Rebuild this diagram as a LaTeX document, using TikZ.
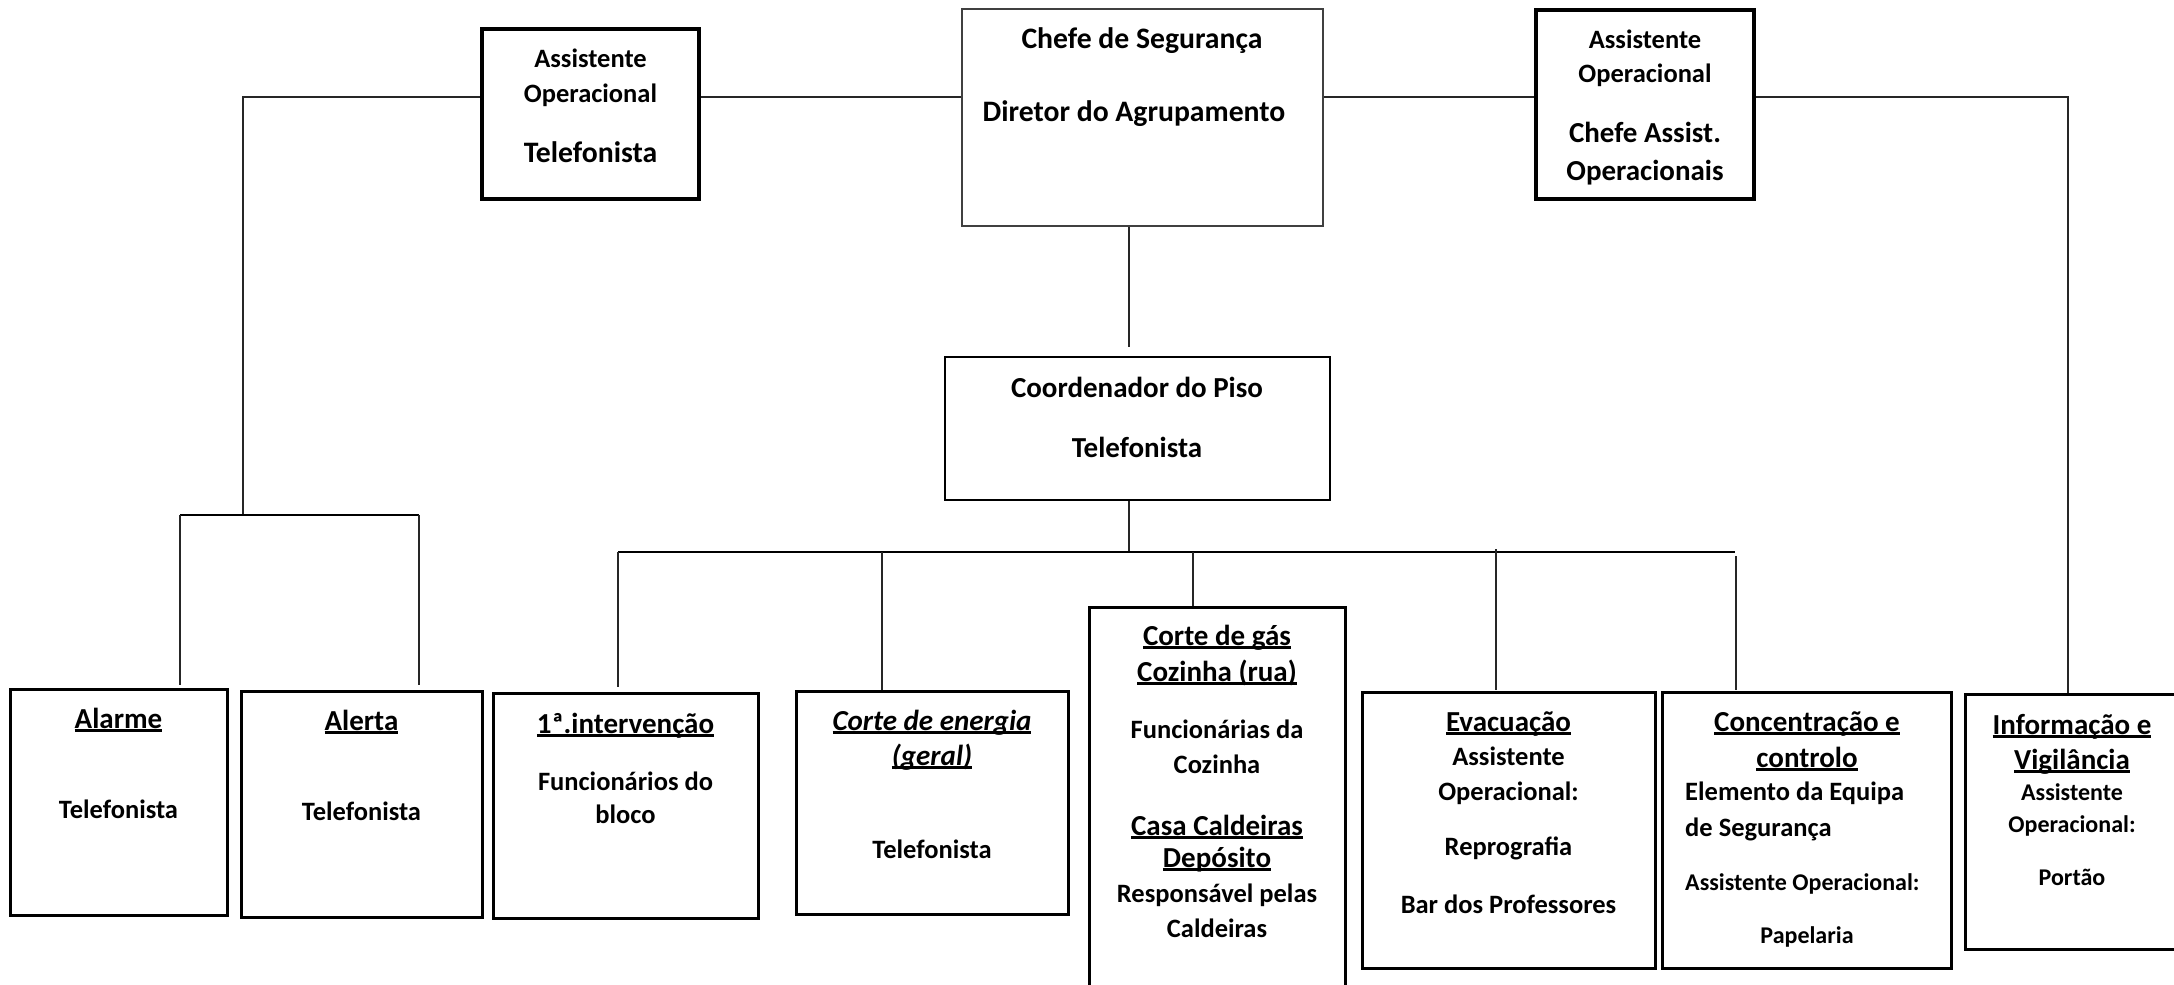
\documentclass[tikz,border=0pt]{standalone}
\usepackage{fontspec}
\setmainfont{Carlito}
\usetikzlibrary{fit}
\newcommand\ulx[1]{\setbox0\hbox{#1}\rlap{\rule[-0.13em]{\wd0}{0.08em}}\box0}
\newcommand\fs[1]{\fontsize{#1}{#1}\selectfont\bfseries}
\begin{document}
\begin{tikzpicture}[x=1pt,y=-1pt,
  thickbox/.style={draw=black,line width=4.5pt,inner sep=0pt},
  thinbox/.style={draw=black!75,line width=2pt,inner sep=0pt},
  midbox/.style={draw=black,line width=2.5pt,inner sep=0pt},
  lowbox/.style={draw=black,line width=3pt,inner sep=0pt},
  conn/.style={draw=black!85,line width=1.5pt},
  hconn/.style={draw=black,line width=2.2pt},
  top/.style={font=\fs{29.7},anchor=base,inner sep=0pt},
  tops/.style={font=\fs{26.5},anchor=base,inner sep=0pt},
  big/.style={font=\fs{29},anchor=base,inner sep=0pt},
  mid/.style={font=\fs{26.5},anchor=base,inner sep=0pt},
  sml/.style={font=\fs{24},anchor=base,inner sep=0pt}]
\useasboundingbox (0,0) rectangle (2174,985);
% boxes
\node[thickbox,fit={(482,29)(699,199)}] (asst1) {};
\node[thinbox,fit={(962,9)(1323,226)}] (chefe) {};
\node[thickbox,fit={(1536,10)(1754,199)}] (asst2) {};
\node[midbox,fit={(945,357)(1330,500)}] (coord) {};
\node[lowbox,fit={(10,689)(227,915)}] (alarme) {};
\node[lowbox,fit={(241,691)(482,917)}] (alerta) {};
\node[lowbox,fit={(493,693)(758,918)}] (interv) {};
\node[lowbox,fit={(796,691)(1068,914)}] (energia) {};
\node[lowbox,fit={(1089,607)(1345,1000)}] (gas) {};
\node[lowbox,fit={(1362,692)(1655,968)}] (evac) {};
\node[lowbox,fit={(1662,692)(1951,968)}] (conc) {};
\node[lowbox,fit={(1965,694)(2190,949)}] (info) {};
% junction coordinates
\coordinate (lt) at (243,97);
\coordinate (lj) at (243,515);
\coordinate (la) at (180,515);
\coordinate (lb) at (419,515);
\coordinate (la2) at (180,685);
\coordinate (lb2) at (419,685);
\coordinate (rt) at (2068,97);
\coordinate (cc) at (1129,347);
\coordinate (cj) at (1129,552);
\coordinate (h1) at (618,552);
\coordinate (h5) at (1735,552);
% top connectors
\draw[conn] (asst1.west |- lt) -- (lt) -- (lj);
\draw[conn] (asst1.east |- lt) -- (chefe.west |- lt);
\draw[conn] (chefe.east |- lt) -- (asst2.west |- lt);
\draw[conn] (asst2.east |- rt) -- (rt) -- (info.north -| rt);
\draw[hconn] (la) -- (lb);
\draw[conn] (la) -- (la2);
\draw[conn] (lb) -- (lb2);
\draw[conn] (chefe.south -| cc) -- (cc);
\draw[conn] (coord.south -| cj) -- (cj);
\draw[hconn] (h1) -- (h5);
\draw[conn] (h1) -- (618,687);
\draw[conn] (882,552) -- (energia.north -| 882,0);
\draw[conn] (1193,552) -- (gas.north -| 1193,0);
\draw[conn] (1496,549) -- (1496,690);
\draw[conn] (1736,556) -- (1736,690);
% texts top
\node[tops] at (590.5,67) {Assistente};
\node[tops] at (590.5,102) {Operacional};
\node[top] at (590.5,162) {Telefonista};
\node[top] at (1142,48) {Chefe de Segurança};
\node[top] at (1134,121) {Diretor do Agrupamento};
\node[tops] at (1645,48) {Assistente};
\node[tops] at (1645,82) {Operacional};
\node[big] at (1645,142) {Chefe Assist.};
\node[big] at (1645,180) {Operacionais};
\node[big] at (1137,397) {Coordenador do Piso};
\node[big] at (1137,457) {Telefonista};
% bottom texts
\node[big] at (118.5,728) {\ulx{Alarme}};
\node[mid] at (118.5,818) {Telefonista};
\node[big] at (361.5,730) {\ulx{Alerta}};
\node[mid] at (361.5,820) {Telefonista};
\node[big] at (625.5,733) {\ulx{1ª.intervenção}};
\node[mid] at (625.5,790) {Funcionários do};
\node[mid] at (625.5,823) {bloco};
\node[big] at (932,730) {\itshape\ulx{Corte de energia}};
\node[big] at (932,765) {\itshape\ulx{(geral)}};
\node[mid] at (932,858) {Telefonista};
\node[big] at (1217,645) {\ulx{Corte de gás}};
\node[big] at (1217,681) {\ulx{Cozinha (rua)}};
\node[mid] at (1217,738) {Funcionárias da};
\node[mid] at (1217,773) {Cozinha};
\node[big] at (1217,835) {\ulx{Casa Caldeiras}};
\node[big] at (1217,867) {\ulx{Depósito}};
\node[mid] at (1217,902) {Responsável pelas};
\node[mid] at (1217,937) {Caldeiras};
\node[big] at (1508.5,731) {\ulx{Evacuação}};
\node[mid] at (1508.5,765) {Assistente};
\node[mid] at (1508.5,800) {Operacional:};
\node[mid] at (1508.5,855) {Reprografia};
\node[mid] at (1508.5,913) {Bar dos Professores};
\node[big] at (1807,731) {\ulx{Concentração e}};
\node[big] at (1807,767) {\ulx{controlo}};
\node[mid,anchor=base west] at (1685,800) {Elemento da Equipa};
\node[mid,anchor=base west] at (1685,836) {de Segurança};
\node[sml,anchor=base west] at (1685,890) {Assistente Operacional:};
\node[sml] at (1807,943) {Papelaria};
\node[big] at (2072,734) {\ulx{Informação e}};
\node[big] at (2072,769) {\ulx{Vigilância}};
\node[sml] at (2072,800) {Assistente};
\node[sml] at (2072,832) {Operacional:};
\node[sml] at (2072,885) {Portão};
\end{tikzpicture}
\end{document}
